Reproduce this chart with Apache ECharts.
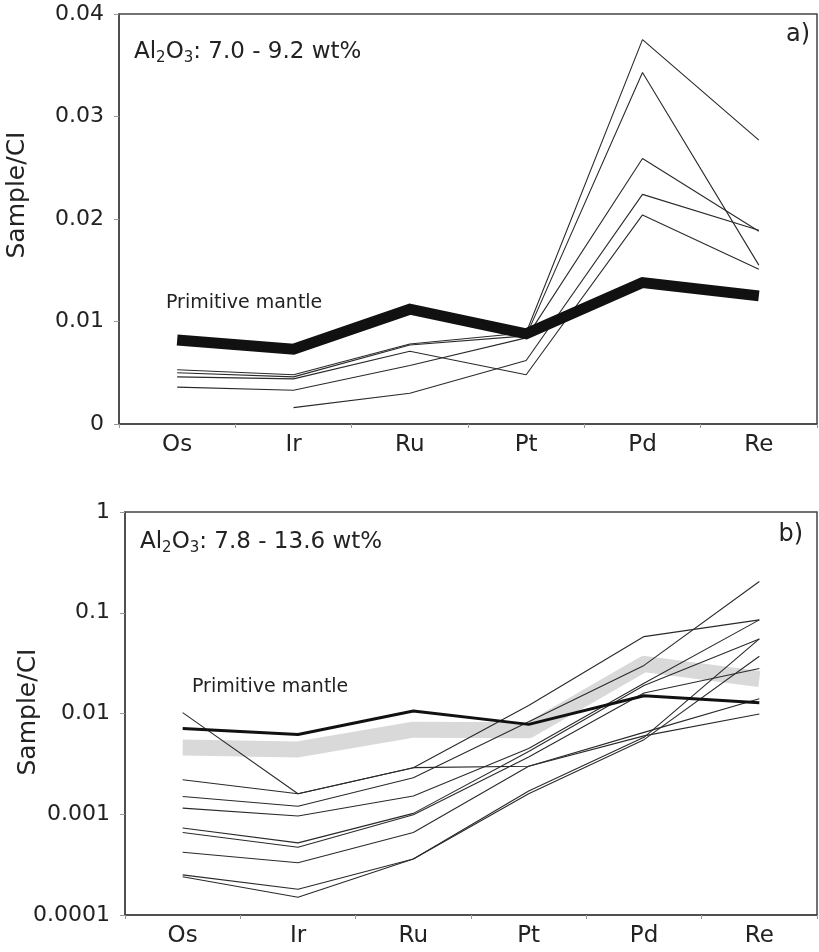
<!DOCTYPE html>
<html>
<head>
<meta charset="utf-8">
<script src="https://cdn.jsdelivr.net/npm/echarts@6/dist/echarts.min.js"></script>
<style>
  html, body { margin: 0; padding: 0; background: #fff; }
  #chart { width: 819px; height: 952px; }
</style>
</head>
<body>
<div id="chart"></div>
<script>
// element order on both panels
const elements = ['Os', 'Ir', 'Ru', 'Pt', 'Pd', 'Re'];

// panel a) linear scale
const yTicksA = [0, 0.01, 0.02, 0.03, 0.04];
const mantleA = [0.0082, 0.0073, 0.0112, 0.0088, 0.0138, 0.0125];
const samplesA = [
  [0.0053, 0.0048, 0.0078, 0.0089, 0.0375, 0.0277],
  [0.0050, 0.0046, 0.0077, 0.0086, 0.0343, 0.0155],
  [0.0046, 0.0044, 0.0071, 0.0048, 0.0204, 0.0151],
  [0.0036, 0.0033, 0.0057, 0.0084, 0.0259, 0.0188],
  [null, 0.0016, 0.0030, 0.0062, 0.0224, 0.0189]
];

// panel b) log scale
const yTicksB = [0.0001, 0.001, 0.01, 0.1, 1];
const mantleB = [0.0071, 0.0062, 0.0106, 0.0078, 0.0150, 0.0128];
const fieldB = [0.0046, 0.0044, 0.0069, 0.0068, 0.031, 0.022];
const samplesB = [
  [0.0102, 0.0016, 0.0029, 0.0030, 0.0060, 0.0099],
  [0.0022, 0.0016, 0.0029, 0.0120, 0.058, 0.085],
  [0.0015, 0.0012, 0.0023, 0.0083, 0.030, 0.204],
  [0.00115, 0.00096, 0.00152, 0.0045, 0.020, 0.085],
  [0.00073, 0.00052, 0.00102, 0.0042, 0.019, 0.055],
  [0.00066, 0.00047, 0.00099, 0.0037, 0.016, 0.028],
  [0.00042, 0.00033, 0.00066, 0.0030, 0.0065, 0.014],
  [0.00025, 0.00018, 0.00036, 0.0017, 0.0058, 0.055],
  [0.00024, 0.00015, 0.00036, 0.0016, 0.0055, 0.037]
];

const FONT = 'DejaVu Sans';
const ink = '#2a2a2a';

const chart = echarts.init(document.getElementById('chart'));

function xAxisFor(gridIndex) {
  return {
    type: 'category',
    gridIndex: gridIndex,
    data: elements,
    axisLine: { lineStyle: { color: '#444', width: 1.5 } },
    axisTick: { show: true, length: 4, lineStyle: { color: '#999' } },
    axisLabel: { color: '#222', fontFamily: FONT, fontSize: 23, margin: 10 },
    splitLine: { show: false }
  };
}

function thin(data, xi, yi) {
  return {
    type: 'line', xAxisIndex: xi, yAxisIndex: yi, data: data,
    symbol: 'none', silent: true, z: 3,
    lineStyle: { color: ink, width: 1.1 }
  };
}

const series = [];
samplesA.forEach(s => series.push(thin(s, 0, 0)));
series.push({
  type: 'line', xAxisIndex: 0, yAxisIndex: 0, data: mantleA,
  symbol: 'none', silent: true, z: 4,
  lineStyle: { color: '#111', width: 11, cap: 'butt', join: 'miter' }
});
series.push({
  type: 'line', xAxisIndex: 1, yAxisIndex: 1, data: fieldB,
  symbol: 'none', silent: true, z: 2,
  lineStyle: { color: '#d9d9d9', width: 16, cap: 'butt', join: 'round' }
});
samplesB.forEach(s => series.push(thin(s, 1, 1)));
series.push({
  type: 'line', xAxisIndex: 1, yAxisIndex: 1, data: mantleB,
  symbol: 'none', silent: true, z: 4,
  lineStyle: { color: '#111', width: 3, cap: 'butt' }
});

const titleRich = {
  n: { fontFamily: FONT, fontSize: 23, fontWeight: 'normal', color: '#222', lineHeight: 28 },
  s: { fontFamily: FONT, fontSize: 15, fontWeight: 'normal', color: '#222', lineHeight: 16, verticalAlign: 'bottom' }
};
const plain = size => ({ fontFamily: FONT, fontSize: size, fontWeight: 'normal', color: '#222' });

chart.setOption({
  animation: false,
  backgroundColor: '#fff',
  grid: [
    { left: 119, right: 2, top: 14, height: 410, show: true, borderColor: '#444', borderWidth: 1.5, backgroundColor: 'transparent' },
    { left: 125, right: 2, top: 512, height: 403, show: true, borderColor: '#444', borderWidth: 1.5, backgroundColor: 'transparent' }
  ],
  title: [
    { text: '{n|Al}{s|2}{n|O}{s|3}{n|: 7.0 - 9.2 wt%}', left: 134, top: 38, padding: 0, textStyle: { fontWeight: 'normal', rich: titleRich } },
    { text: '{n|Al}{s|2}{n|O}{s|3}{n|: 7.8 - 13.6 wt%}', left: 140, top: 528, padding: 0, textStyle: { fontWeight: 'normal', rich: titleRich } },
    { text: 'a)', right: 9, top: 23, padding: 0, textStyle: plain(24) },
    { text: 'b)', right: 16, top: 523, padding: 0, textStyle: plain(24) },
    { text: 'Primitive mantle', left: 166, top: 294, padding: 0, textStyle: plain(19) },
    { text: 'Primitive mantle', left: 192, top: 678, padding: 0, textStyle: plain(19) }
  ],
  graphic: [
    { type: 'text', x: 17, y: 195, rotation: Math.PI / 2, style: { text: 'Sample/CI', fontFamily: FONT, fontSize: 25, fill: '#222', align: 'center', verticalAlign: 'middle' } },
    { type: 'text', x: 28, y: 712, rotation: Math.PI / 2, style: { text: 'Sample/CI', fontFamily: FONT, fontSize: 25, fill: '#222', align: 'center', verticalAlign: 'middle' } }
  ],
  xAxis: [xAxisFor(0), xAxisFor(1)],
  yAxis: [
    {
      type: 'value', gridIndex: 0,
      min: yTicksA[0], max: yTicksA[yTicksA.length - 1], interval: 0.01,
      axisLine: { show: true, lineStyle: { color: '#444', width: 1.5 } },
      axisTick: { show: true, length: 5, lineStyle: { color: '#999' } },
      axisLabel: {
        color: '#222', fontFamily: FONT, fontSize: 22, margin: 15,
        formatter: v => v === 0 ? '0' : v.toFixed(2)
      },
      splitLine: { show: false }
    },
    {
      type: 'log', gridIndex: 1, logBase: 10,
      min: yTicksB[0], max: yTicksB[yTicksB.length - 1],
      axisLine: { show: true, lineStyle: { color: '#444', width: 1.5 } },
      axisTick: { show: true, length: 5, lineStyle: { color: '#999' } },
      axisLabel: {
        color: '#222', fontFamily: FONT, fontSize: 22, margin: 15,
        formatter: v => String(parseFloat(Number(v).toPrecision(2)))
      },
      splitLine: { show: false }
    }
  ],
  series: series
});
</script>
</body>
</html>
